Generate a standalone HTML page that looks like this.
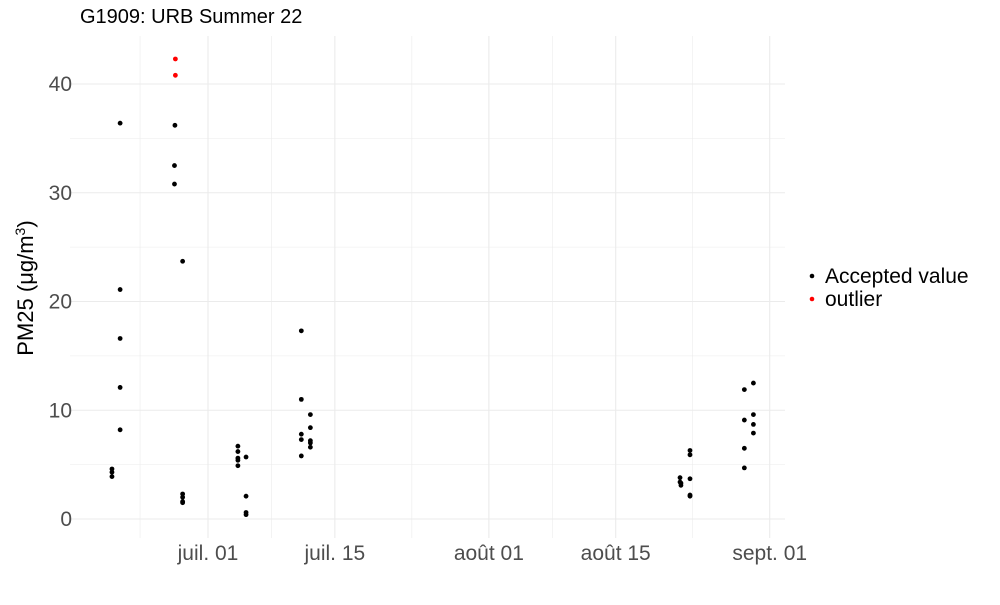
<!DOCTYPE html>
<html><head><meta charset="utf-8"><style>
body{margin:0;background:#fff;font-family:"Liberation Sans",sans-serif}
svg text{font-family:"Liberation Sans",sans-serif}
</style></head><body>
<svg width="1000" height="600" id="c">
<text x="80" y="23" font-size="20" fill="#000">G1909: URB Summer 22</text>
<g id="grid"></g><g id="pts"></g>
<text transform="translate(33,288) rotate(-90)" font-size="22" text-anchor="middle">PM25 (μg/m<tspan dy="-8" font-size="14">3</tspan><tspan dy="8">)</tspan></text>
<g>
<circle cx="812" cy="276" r="2.3" fill="#000"/>
<text x="825" y="283" font-size="21">Accepted value</text>
<circle cx="812" cy="299" r="2.3" fill="#f00"/>
<text x="825" y="306" font-size="21">outlier</text>
</g>
</svg>
<script>
// days after July 1, PM25 values, status
const days=[-10.6,-10.6,-10.6,-9.7,-9.7,-9.7,-9.7,-9.7,
-3.6,-3.6,-3.65,-3.7,-3.7,-2.8,-2.8,-2.8,-2.8,-2.8,
3.3,3.3,3.3,3.3,3.3,4.2,4.2,4.2,4.2,
10.3,10.3,10.3,10.3,10.3,11.3,11.3,11.3,11.3,11.3,
52.1,52.1,52.2,52.2,53.2,53.2,53.2,53.2,53.2,
59.2,59.2,59.2,59.2,60.2,60.2,60.2,60.2];
const values=[4.6,4.3,3.9,36.4,21.1,16.6,12.1,8.2,
42.3,40.8,36.2,32.5,30.8,23.7,2.3,2.0,1.6,1.5,
6.7,6.2,5.6,5.4,4.9,5.7,2.1,0.6,0.4,
17.3,11.0,7.8,7.3,5.8,9.6,8.4,7.2,7.0,6.6,
3.8,3.4,3.3,3.1,6.3,5.9,3.7,2.2,2.1,
11.9,9.1,6.5,4.7,12.5,9.6,8.7,7.9];
const outlier=[0,0,0,0,0,0,0,0,1,1,0,0,0,0,0,0,0,0,0,0,0,0,0,0,0,0,0,0,0,0,0,0,0,0,0,0,0,0,0,0,0,0,0,0,0,0,0,0,0,0,0,0,0,0];
const yTicks=[0,10,20,30,40];
const xTickDays=[0,14,31,45,62];
const xTickLabels=["juil. 01","juil. 15","août 01","août 15","sept. 01"];
const NS="http://www.w3.org/2000/svg";
const X=d=>208+d*9.06, Y=v=>519-v*10.875;
const L=70,R=785,T=36,B=538;
const g=document.getElementById('grid'),p=document.getElementById('pts'),svg=document.getElementById('c');
function line(x1,y1,x2,y2,w){const l=document.createElementNS(NS,'line');l.setAttribute('x1',x1);l.setAttribute('y1',y1);l.setAttribute('x2',x2);l.setAttribute('y2',y2);l.setAttribute('stroke','#ebebeb');l.setAttribute('stroke-width',w);


g.appendChild(l);}
for(let v=5;v<45;v+=10)line(L,Y(v),R,Y(v),0.6);
for(let i=0;i<xTickDays.length;i++){const d=i==0?-7.5:(xTickDays[i-1]+xTickDays[i])/2;line(X(d),T,X(d),B,0.6);}
for(const v of yTicks){line(L,Y(v),R,Y(v),1.1);
const t=document.createElementNS(NS,'text');t.setAttribute('x',72);t.setAttribute('y',Y(v)+7);t.setAttribute('text-anchor','end');t.setAttribute('font-size','21');t.setAttribute('fill','#4d4d4d');t.textContent=v;


svg.appendChild(t);}
xTickDays.forEach((d,i)=>{line(X(d),T,X(d),B,1.1);
const t=document.createElementNS(NS,'text');t.setAttribute('x',X(d));t.setAttribute('y',560);t.setAttribute('text-anchor','middle');t.setAttribute('font-size','21');t.setAttribute('fill','#4d4d4d');t.textContent=xTickLabels[i];


svg.appendChild(t);});
days.forEach((d,i)=>{const c=document.createElementNS(NS,'circle');c.setAttribute('cx',X(d));c.setAttribute('cy',Y(values[i]));c.setAttribute('r',2.4);c.setAttribute('fill',outlier[i]?'#f00':'#000');


p.appendChild(c);});
</script>
</body></html>
